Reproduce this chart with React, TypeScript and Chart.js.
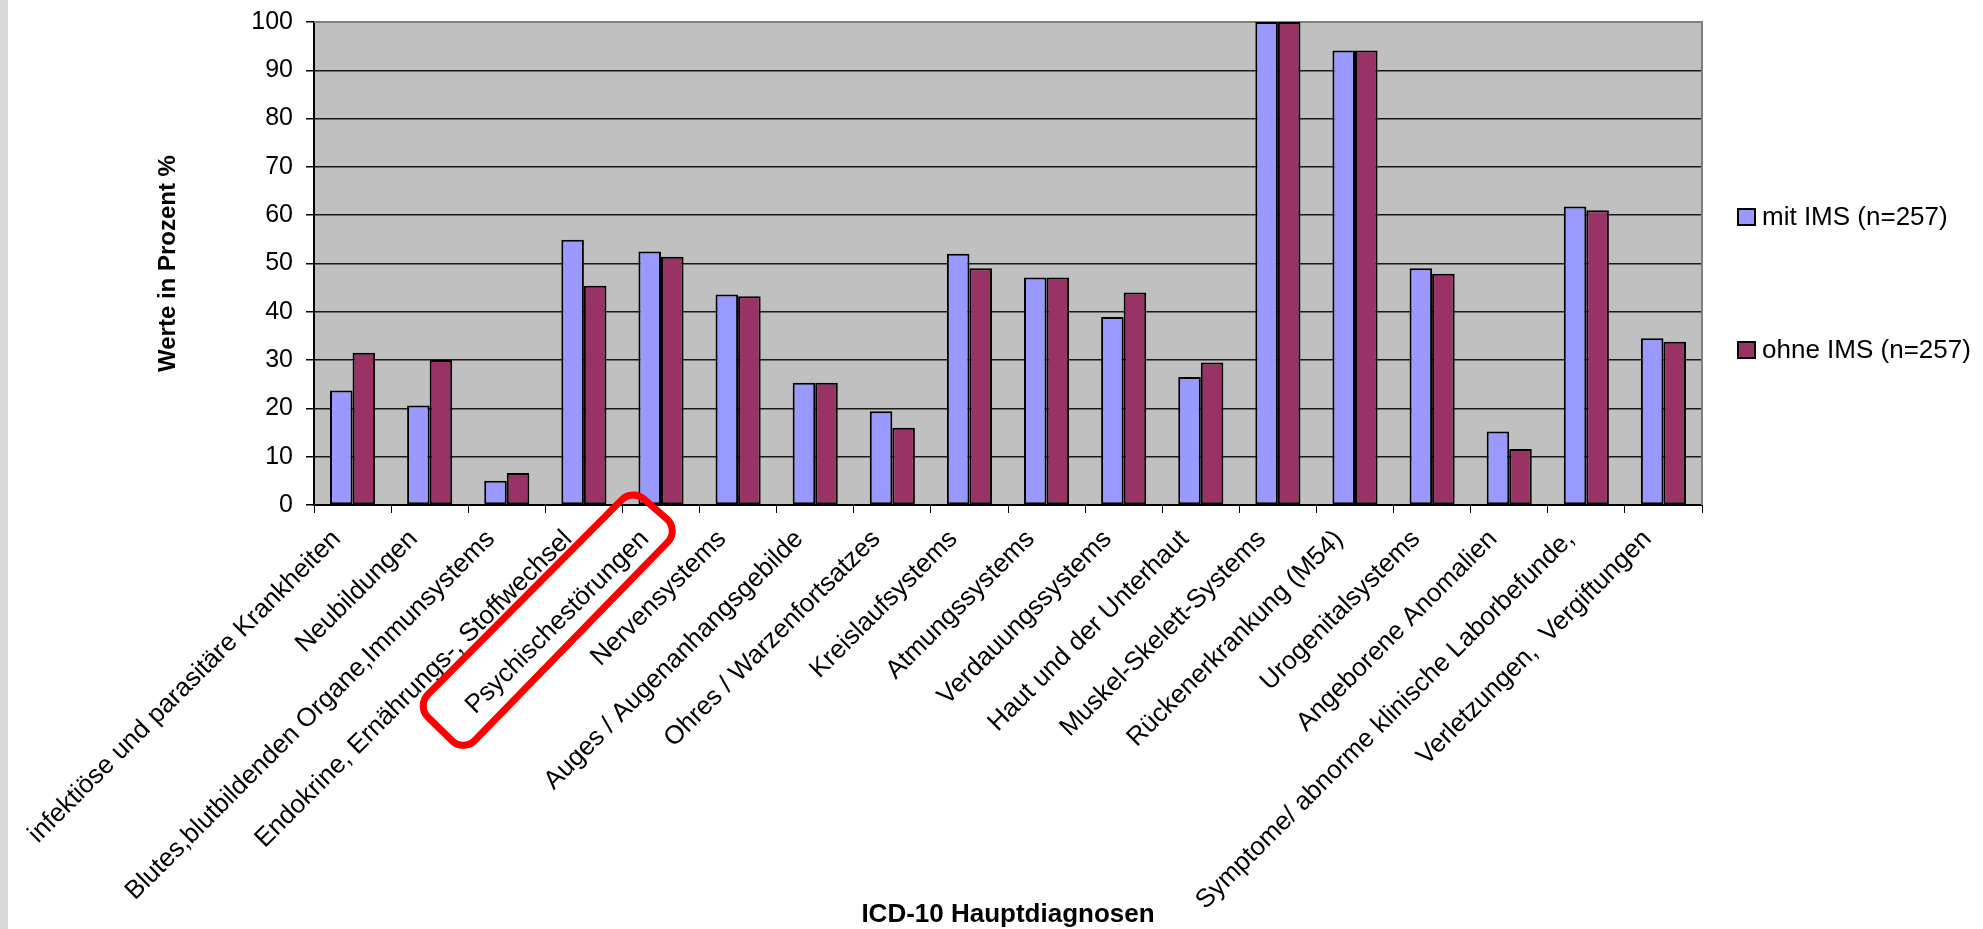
import React, { useEffect, useRef } from "react";
import { Chart, registerables } from "chart.js";

Chart.register(...registerables);

// ---------- data ----------
const categories = [
  "infektiöse und parasitäre Krankheiten",
  "Neubildungen",
  "Blutes,blutbildenden Organe,Immunsystems",
  "Endokrine, Ernährungs-, Stoffwechsel",
  "Psychischestörungen",
  "Nervensystems",
  "Auges / Augenanhangsgebilde",
  "Ohres / Warzenfortsatzes",
  "Kreislaufsystems",
  "Atmungssystems",
  "Verdauungssystems",
  "Haut und der Unterhaut",
  "Muskel-Skelett-Systems",
  "Rückenerkrankung (M54)",
  "Urogenitalsystems",
  "Angeborene Anomalien",
  "Symptome/ abnorme klinische Laborbefunde,",
  "Verletzungen,  Vergiftungen",
];

const mitIMS = [23.7, 20.6, 5.0, 54.9, 52.5, 43.6, 25.3, 19.4, 52.0, 47.1, 38.9, 26.5, 100, 94.1, 49.0, 15.2, 61.8, 34.5];
const ohneIMS = [31.5, 30.0, 6.6, 45.4, 51.4, 43.2, 25.3, 16.0, 49.0, 47.1, 44.0, 29.5, 100, 94.1, 47.9, 11.6, 61.0, 33.8];

const seriesNames = ["mit IMS (n=257)", "ohne IMS (n=257)"];
const seriesColors = ["#9999FF", "#993366"];

const yMin = 0;
const yMax = 100;
const yStep = 10;

const xTitle = "ICD-10 Hauptdiagnosen";
const yTitle = "Werte in Prozent %";
const highlightedIndex = 4;

// ---------- layout ----------
const W = 1983;
const H = 929;
const PLOT_LEFT = 314;
const PLOT_RIGHT = 1702;
const PLOT_TOP = 22;
const PLOT_BOTTOM = 505;
const FONT = "Arial, 'Liberation Sans', sans-serif";

const decorPlugin = {
  id: "decor",
  beforeDraw(chart: any) {
    const { ctx, chartArea: a } = chart;
    ctx.save();
    ctx.fillStyle = "#ffffff";
    ctx.fillRect(0, 0, chart.width, chart.height);
    ctx.fillStyle = "#C0C0C0";
    ctx.fillRect(a.left, a.top, a.right - a.left, a.bottom - a.top);
    ctx.restore();
  },
  beforeDatasetsDraw(chart: any) {
    const { ctx, chartArea: a } = chart;
    ctx.save();
    ctx.strokeStyle = "#808080";
    ctx.lineWidth = 2;
    ctx.beginPath();
    ctx.moveTo(a.left, a.top);
    ctx.lineTo(a.right, a.top);
    ctx.lineTo(a.right, a.bottom);
    ctx.stroke();
    ctx.restore();
  },
  afterDraw(chart: any) {
    const { ctx, chartArea: a } = chart;
    ctx.save();
    // y title
    ctx.fillStyle = "#000";
    ctx.font = `bold 24px ${FONT}`;
    ctx.textAlign = "center";
    ctx.textBaseline = "middle";
    ctx.save();
    ctx.translate(168, (a.top + a.bottom) / 2);
    ctx.rotate(-Math.PI / 2);
    ctx.fillText(yTitle, 0, 0);
    ctx.restore();
    // x title
    ctx.font = `bold 26px ${FONT}`;
    ctx.fillText(xTitle, (a.left + a.right) / 2, 915);

    // legend
    const legendY = [217, 350];
    ctx.font = `26px ${FONT}`;
    ctx.textAlign = "left";
    seriesNames.forEach((name, i) => {
      const cy = legendY[i];
      ctx.fillStyle = seriesColors[i];
      ctx.fillRect(1738, cy - 8, 17, 16);
      ctx.strokeStyle = "#000";
      ctx.lineWidth = 2;
      ctx.strokeRect(1738, cy - 8, 17, 16);
      ctx.fillStyle = "#000";
      ctx.fillText(name, 1762, cy + 1);
    });

    // red highlight around a category label
    const xs = chart.scales.x;
    const c = xs.getPixelForValue(highlightedIndex);
    const ay = a.bottom;
    const pts = [
      [c - 28.5, ay - 16],
      [c + 18.5, ay + 25],
      [c - 197.5, ay + 247],
      [c - 244.5, ay + 201],
    ];
    ctx.strokeStyle = "#FF0000";
    ctx.lineWidth = 7;
    ctx.lineJoin = "round";
    const r = 16;
    ctx.beginPath();
    const m0 = [(pts[3][0] + pts[0][0]) / 2, (pts[3][1] + pts[0][1]) / 2];
    ctx.moveTo(m0[0], m0[1]);
    for (let i = 0; i < 4; i++) {
      const p = pts[i];
      const n = pts[(i + 1) % 4];
      ctx.arcTo(p[0], p[1], n[0], n[1], r);
    }
    ctx.closePath();
    ctx.stroke();
    ctx.restore();
  },
};

export default function App() {
  const canvasRef = useRef<HTMLCanvasElement | null>(null);

  useEffect(() => {
    if (!canvasRef.current) return;
    const chart = new Chart(canvasRef.current, {
      type: "bar",
      data: {
        labels: categories,
        datasets: [
          {
            label: seriesNames[0],
            data: mitIMS,
            backgroundColor: seriesColors[0],
            borderColor: "#000",
            borderWidth: 2,
            borderSkipped: false,
            categoryPercentage: 0.585,
            barPercentage: 1.0,
          },
          {
            label: seriesNames[1],
            data: ohneIMS,
            backgroundColor: seriesColors[1],
            borderColor: "#000",
            borderWidth: 2,
            borderSkipped: false,
            categoryPercentage: 0.585,
            barPercentage: 1.0,
          },
        ],
      },
      options: {
        responsive: false,
        maintainAspectRatio: false,
        animation: false,
        devicePixelRatio: 1,
        layout: {
          padding: { left: 0, right: W - PLOT_RIGHT, top: PLOT_TOP, bottom: 0 },
        },
        plugins: {
          legend: { display: false },
          tooltip: { enabled: false },
          title: { display: false },
        },
        scales: {
          x: {
            type: "category",
            offset: true,
            grid: {
              display: true,
              drawOnChartArea: false,
              drawTicks: true,
              tickLength: 8,
              color: "#000",
              lineWidth: 1,
              offset: true,
            },
            border: { display: true, color: "#000", width: 2 },
            ticks: {
              autoSkip: false,
              minRotation: 45,
              maxRotation: 45,
              color: "#000",
              font: { family: FONT, size: 26 },
              padding: 11,
              labelOffset: -16,
            },
            afterFit: (s: any) => {
              s.height = H - PLOT_BOTTOM;
              s.paddingLeft = 0;
              s.paddingRight = 0;
            },
          },
          y: {
            min: yMin,
            max: yMax,
            ticks: {
              stepSize: yStep,
              color: "#000",
              font: { family: FONT, size: 25 },
              padding: 13,
            },
            grid: {
              color: "#1a1a1a",
              lineWidth: 1.5,
              drawTicks: true,
              tickLength: 8,
              tickColor: "#000",
            },
            border: { display: true, color: "#000", width: 2 },
            afterFit: (s: any) => {
              s.width = PLOT_LEFT;
              s.paddingTop = 0;
              s.paddingBottom = 0;
            },
          },
        },
      },
      plugins: [decorPlugin],
    });
    return () => chart.destroy();
  }, []);

  return (
    <div style={{ position: "absolute", left: 0, top: 0, width: W, height: H, background: "#fff", overflow: "hidden" }}>
      <canvas ref={canvasRef} width={W} height={H} style={{ position: "absolute", left: 0, top: 0 }} />
      <div style={{ position: "absolute", left: 0, top: 0, width: 8, height: H, background: "#d9d9d9" }} />
    </div>
  );
}
